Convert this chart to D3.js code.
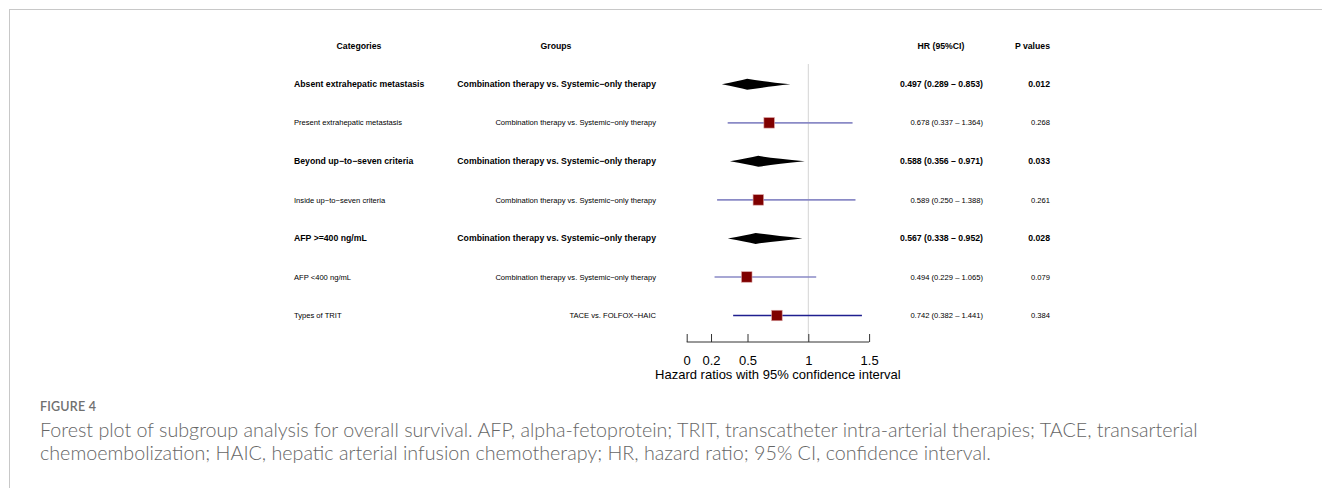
<!DOCTYPE html>
<html><head><meta charset="utf-8">
<script src="https://cdn.jsdelivr.net/npm/d3@7"></script>
<style>
html,body{margin:0;padding:0;background:#fff;}
svg{display:block;}
</style></head>
<body>
<svg id="c" width="1322" height="488"></svg>
<script>
const categories = ["Absent extrahepatic metastasis","Present extrahepatic metastasis","Beyond up\u2212to\u2212seven criteria","Inside up\u2212to\u2212seven criteria","AFP >=400 ng/mL","AFP <400 ng/mL","Types of TRIT"];
const groups = ["Combination therapy vs. Systemic\u2212only therapy","Combination therapy vs. Systemic\u2212only therapy","Combination therapy vs. Systemic\u2212only therapy","Combination therapy vs. Systemic\u2212only therapy","Combination therapy vs. Systemic\u2212only therapy","Combination therapy vs. Systemic\u2212only therapy","TACE vs. FOLFOX\u2212HAIC"];
const hr = [0.497, 0.678, 0.588, 0.589, 0.567, 0.494, 0.742];
const lower = [0.289, 0.337, 0.356, 0.250, 0.338, 0.229, 0.382];
const upper = [0.853, 1.364, 0.971, 1.388, 0.952, 1.065, 1.441];
const pvalues = ["0.012","0.268","0.033","0.261","0.028","0.079","0.384"];
const isSummary = [true, false, true, false, true, false, false];
const tickValues = [0, 0.2, 0.5, 1, 1.5];
const headers = ["Categories","Groups","HR (95%CI)","P values"];
const axisTitle = "Hazard ratios with 95% confidence interval";
const captionLabel = "FIGURE 4";
const captionLines = ["Forest plot of subgroup analysis for overall survival. AFP, alpha-fetoprotein; TRIT, transcatheter intra-arterial therapies; TACE, transarterial",
"chemoembolization; HAIC, hepatic arterial infusion chemotherapy; HR, hazard ratio; 95% CI, confidence interval."];

const svg = d3.select("#c");
const FONT = "'Liberation Sans', Arial, Helvetica, sans-serif";

// frame
svg.append("rect").attr("x",9.5).attr("y",9.5).attr("width",1400).attr("height",600)
  .attr("fill","none").attr("stroke","#c8c8c8").attr("stroke-width",1);

const x = d3.scaleLinear().domain([0,1.5]).range([686.7, 869.1]);
const y = d3.scalePoint().domain(d3.range(categories.length)).range([84.3, 315.5]);
const axisY = 342;

// headers
const hy = 46;
const hdr = svg.append("g").attr("font-family",FONT).attr("font-weight","bold").attr("font-size","8.7px").attr("fill","#000");
hdr.append("text").attr("x",359).attr("y",hy).attr("dy","0.35em").attr("text-anchor","middle").text(headers[0]);
hdr.append("text").attr("x",556).attr("y",hy).attr("dy","0.35em").attr("text-anchor","middle").text(headers[1]);
hdr.append("text").attr("x",941).attr("y",hy).attr("dy","0.35em").attr("text-anchor","middle").text(headers[2]);
hdr.append("text").attr("x",1050).attr("y",hy).attr("dy","0.35em").attr("text-anchor","end").text(headers[3]);

// reference line
svg.append("line").attr("x1",x(1)).attr("x2",x(1)).attr("y1",64).attr("y2",axisY)
  .attr("stroke","#d4d4d4").attr("stroke-width",1);

const f3 = d3.format(".3f");
const rows = svg.append("g").attr("font-family",FONT).attr("fill","#000");
categories.forEach((c,i)=>{
  const yy = y(i);
  const s = isSummary[i];
  const g = rows.append("g").attr("font-size", s ? "8.7px" : "7.6px").attr("font-weight", s ? "bold":"normal");
  g.append("text").attr("x",294).attr("y",yy).attr("dy","0.35em").text(c);
  g.append("text").attr("x",656).attr("y",yy).attr("dy","0.35em").attr("text-anchor","end").text(groups[i]);
  g.append("text").attr("x",983).attr("y",yy).attr("dy","0.35em").attr("text-anchor","end")
    .text(`${f3(hr[i])} (${f3(lower[i])} \u2013 ${f3(upper[i])})`);
  g.append("text").attr("x",1050).attr("y",yy).attr("dy","0.35em").attr("text-anchor","end").text(pvalues[i]);
});

// marks
const marks = svg.append("g");
categories.forEach((c,i)=>{
  const yy = y(i);
  if (isSummary[i]) {
    const h = 5.5;
    const path = `M${x(lower[i])},${yy} Q${x(hr[i])-(x(hr[i])-x(lower[i]))*0.35},${yy-h*0.55} ${x(hr[i])},${yy-h} Q${x(hr[i])+(x(upper[i])-x(hr[i]))*0.35},${yy-h*0.55} ${x(upper[i])},${yy} Q${x(hr[i])+(x(upper[i])-x(hr[i]))*0.35},${yy+h*0.55} ${x(hr[i])},${yy+h} Q${x(hr[i])-(x(hr[i])-x(lower[i]))*0.35},${yy+h*0.55} ${x(lower[i])},${yy} Z`;
    marks.append("path").attr("d",path).attr("fill","#000");
  } else {
    const col = i === categories.length-1 ? "#1f1f8f" : "#8a8ac6";
    marks.append("line").attr("x1",x(lower[i])).attr("x2",x(upper[i])).attr("y1",yy).attr("y2",yy)
      .attr("stroke",col).attr("stroke-width",1.6);
    const bs = 10.5;
    marks.append("rect").attr("x",x(hr[i])-bs/2).attr("y",yy-bs/2).attr("width",bs).attr("height",bs)
      .attr("fill","#7f0000").attr("stroke","#d9a0a0").attr("stroke-width",0.6);
  }
});

// axis
const ax = svg.append("g").attr("transform",`translate(0,${axisY})`)
  .call(d3.axisBottom(x).tickValues(tickValues).tickFormat(d3.format("")).tickSizeInner(-8).tickSizeOuter(0).tickPadding(0));
ax.select(".domain").attr("stroke","#333").attr("d",`M${x(0)},0H${x(1.5)}`);
ax.selectAll(".tick line").attr("stroke","#333");
ax.selectAll(".tick text").attr("y",14).attr("dy","0.71em").attr("font-size","13px").attr("font-family",FONT).attr("fill","#000");
svg.append("text").attr("x",(x(0)+x(1.5))/2).attr("y",379).attr("text-anchor","middle")
  .attr("font-family",FONT).attr("font-size","13px").attr("fill","#000").text(axisTitle);

// caption
const CF = "Lato, 'Open Sans', sans-serif";
svg.append("text").attr("x",40).attr("y",411).attr("font-family",CF).attr("font-size","12.5px")
  .attr("font-weight","600").attr("fill","#707070").attr("letter-spacing","0.2px").text(captionLabel);
const capT = svg.append("g").attr("font-family",CF).attr("fill","#666").attr("font-size","17px").attr("font-weight","300");
const l1 = capT.append("text").attr("x",40).attr("y",437).text(captionLines[0]);
capT.append("text").attr("x",40).attr("y",460).text(captionLines[1]);
// fit first line to its width in the figure
const w = l1.node().getComputedTextLength();
const fs = 17 * 1158 / w;
capT.attr("font-size", fs + "px");
</script>
</body></html>
